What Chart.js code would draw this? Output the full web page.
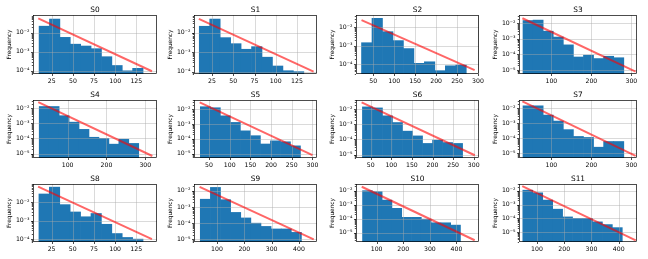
<!DOCTYPE html>
<html>
<head>
<meta charset="utf-8">
<script src="https://cdn.jsdelivr.net/npm/chart.js@4"></script>
<style>
  body { margin: 0; background: #fff; width: 648px; height: 259px; position: relative; overflow: hidden; }
  canvas { position: absolute; }
</style>
</head>
<body>
<script>
// Datos: un histograma por serie (bordes de bins, frecuencias) y la recta de ajuste
const titles = ['S0', 'S1', 'S2', 'S3', 'S4', 'S5', 'S6', 'S7', 'S8', 'S9', 'S10', 'S11'];

const s0Edges = [10, 22.3, 34.6, 46.9, 59.2, 71.5, 83.8, 96.1, 108.4, 120.7, 133];
const s0Freq = [0.022, 0.052, 0.0057, 0.0025, 0.0020, 0.00145, 0.00055, 0.00019, 0.0001, 0.000135];
const s0Fit = [[9, 0.057], [143.5, 0.000095]];

const s1Edges = [10, 22.3, 34.6, 46.9, 59.2, 71.5, 83.8, 96.1, 108.4, 120.7, 133];
const s1Freq = [0.021, 0.049, 0.0055, 0.0027, 0.0014, 0.0019, 0.00055, 0.000195, 0.000112, 0.0001];
const s1Fit = [[9.5, 0.05], [144.5, 0.0001]];

const s2Edges = [22, 47, 72, 97, 122, 147, 172, 197, 222, 247, 272];
const s2Freq = [0.00146, 0.031, 0.0058, 0.0019, 0.0007, 0.00011, 0.000134, 0.000044, 0.000081, 0.000089];
const s2Fit = [[22, 0.025], [292, 0.000047]];

const s3Edges = [29, 54.2, 79.4, 104.6, 129.8, 155, 180.2, 205.4, 230.6, 255.8, 281];
const s3Freq = [0.015, 0.016, 0.0031, 0.0013, 0.00041, 0.000068, 0.000089, 0.000054, 0.000076, 0.000061];
const s3Fit = [[27.5, 0.021], [310.5, 0.0000078]];

const s4Edges = [27, 52.6, 78.2, 103.8, 129.4, 155, 180.6, 206.2, 231.8, 257.4, 283];
const s4Freq = [0.013, 0.013, 0.0032, 0.0012, 0.0004, 0.00012, 0.0001, 0.000042, 0.000089, 0.000047];
const s4Fit = [[24.5, 0.025], [318, 0.0000069]];

const s5Edges = [29, 53.2, 77.4, 101.6, 125.8, 150, 174.2, 198.4, 222.6, 246.8, 271];
const s5Freq = [0.0144, 0.0123, 0.0035, 0.00126, 0.00034, 0.00016, 0.000044, 0.000072, 0.000062, 0.000033];
const s5Fit = [[27.5, 0.028], [300, 0.0000078]];

const s6Edges = [30, 54.3, 78.6, 102.9, 127.2, 151.5, 175.8, 200.1, 224.4, 248.7, 273];
const s6Freq = [0.014, 0.012, 0.0036, 0.0013, 0.00035, 0.00017, 0.000054, 0.000089, 0.000062, 0.000054];
const s6Fit = [[28, 0.028], [302.5, 0.000009]];

const s7Edges = [29, 54.2, 79.4, 104.6, 129.8, 155, 180.2, 205.4, 230.6, 255.8, 281];
const s7Freq = [0.0144, 0.0144, 0.0035, 0.0014, 0.00038, 0.000134, 0.000115, 0.000026, 0.000062, 0.000062];
const s7Fit = [[27.5, 0.028], [310.5, 0.000007]];

const s8Edges = [10, 22.3, 34.6, 46.9, 59.2, 71.5, 83.8, 96.1, 108.4, 120.7, 133];
const s8Freq = [0.027, 0.063, 0.0072, 0.0029, 0.0016, 0.0024, 0.00063, 0.0002, 0.000123, 0.0001];
const s8Fit = [[9, 0.067], [143.5, 0.0001]];

const s9Edges = [39, 76, 113, 150, 187, 224, 261, 298, 335, 372, 409];
const s9Freq = [0.003, 0.016, 0.0028, 0.00046, 0.00021, 0.0001, 0.000063, 0.000044, 0.000044, 0.000027];
const s9Fit = [[36.5, 0.0174], [454, 0.00001]];

const s10Edges = [47, 83.8, 120.6, 157.4, 194.2, 231, 267.8, 304.6, 341.4, 378.2, 415];
const s10Freq = [0.01, 0.0085, 0.0021, 0.00054, 0.000123, 0.000123, 0.000091, 0.00005, 0.00005, 0.000034];
const s10Fit = [[44, 0.019], [468.5, 0.0000028]];

const s11Edges = [48, 84.5, 121, 157.5, 194, 230.5, 267, 303.5, 340, 376.5, 413];
const s11Freq = [0.011, 0.0071, 0.0021, 0.00046, 0.000126, 0.000098, 0.000098, 0.000055, 0.000035, 0.000021];
const s11Fit = [[46, 0.022], [462.5, 0.0000025]];

// Ticks del eje x
const ticks25 = [25, 50, 75, 100, 125];
const ticks50 = [50, 100, 150, 200, 250, 300];
const ticks100 = [100, 200, 300];
const ticks400 = [100, 200, 300, 400];

// Limites de ejes por panel
const xMins = [2.8, 3.8, 8.8, 19, 11, 13.7, 14.4, 19, 3, 16, 22.4, 34];
const xMaxs = [149.5, 148.5, 302.4, 314, 330, 311, 312.8, 314, 149.5, 466, 484.7, 467];
const yMins = [6.8e-5, 7.6e-5, 2.9e-5, 5.5e-6, 5.1e-6, 5.0e-6, 5.9e-6, 5.0e-6, 7.2e-5, 6.9e-6, 2.1e-6, 1.9e-6];
const yMaxs = [0.085, 0.079, 0.047, 0.034, 0.035, 0.041, 0.040, 0.035, 0.093, 0.026, 0.030, 0.031];

const allEdges = [s0Edges, s1Edges, s2Edges, s3Edges, s4Edges, s5Edges, s6Edges, s7Edges, s8Edges, s9Edges, s10Edges, s11Edges];
const allFreq = [s0Freq, s1Freq, s2Freq, s3Freq, s4Freq, s5Freq, s6Freq, s7Freq, s8Freq, s9Freq, s10Freq, s11Freq];
const allFit = [s0Fit, s1Fit, s2Fit, s3Fit, s4Fit, s5Fit, s6Fit, s7Fit, s8Fit, s9Fit, s10Fit, s11Fit];
const allXTicks = [ticks25, ticks25, ticks50, ticks100, ticks100, ticks50, ticks50, ticks100, ticks25, ticks400, ticks400, ticks400];

// Posicion de cada caja de ejes en la pagina
const boxLefts = [33, 194, 356, 519];
const boxRights = [157, 317, 479, 637];
const boxTops = [15, 100, 184];
const boxBottoms = [74, 158, 242];
const Y_AXIS_W = 34, X_AXIS_H = 14, PAD_TOP = 15, PAD_RIGHT = 6;

Chart.defaults.font.family = "'DejaVu Sans', sans-serif";
Chart.defaults.color = '#000';

const SUP = {'-': '⁻', '0': '⁰', '1': '¹', '2': '²', '3': '³', '4': '⁴', '5': '⁵', '6': '⁶', '7': '⁷', '8': '⁸', '9': '⁹'};
function decadeLabel(v) {
    const e = Math.round(Math.log10(v));
    return '10' + String(e).split('').map(ch => SUP[ch]).join('');
}

// Grid encima de las barras, marco, marcas de ticks y titulo (estilo matplotlib)
const decorPlugin = {
    id: 'decor',
    afterDatasetDraw(chart, args) {
        if (args.index !== 1) return;
        const {ctx, chartArea: a, scales: {x, y}} = chart;
        ctx.save();
        ctx.strokeStyle = 'rgba(170,170,170,0.55)';
        ctx.lineWidth = 0.8;
        ctx.beginPath();
        x.ticks.forEach(t => {
            const px = Math.round(x.getPixelForValue(t.value)) + 0.5;
            ctx.moveTo(px, a.top); ctx.lineTo(px, a.bottom);
        });
        y.ticks.forEach(t => {
            const py = Math.round(y.getPixelForValue(t.value)) + 0.5;
            ctx.moveTo(a.left, py); ctx.lineTo(a.right, py);
        });
        ctx.stroke();
        ctx.restore();
    },
    afterDraw(chart, args, opts) {
        const {ctx, chartArea: a, scales: {x, y}} = chart;
        ctx.save();
        ctx.strokeStyle = '#000';
        ctx.lineWidth = 0.7;
        ctx.strokeRect(a.left + 0.5, a.top + 0.5, a.right - a.left - 1, a.bottom - a.top - 1);
        ctx.beginPath();
        x.ticks.forEach(t => {
            const px = Math.round(x.getPixelForValue(t.value)) + 0.5;
            ctx.moveTo(px, a.bottom); ctx.lineTo(px, a.bottom + 2);
        });
        y.ticks.forEach(t => {
            const py = Math.round(y.getPixelForValue(t.value)) + 0.5;
            ctx.moveTo(a.left, py); ctx.lineTo(a.left - 2, py);
        });
        // ticks menores del eje logaritmico
        for (let e = Math.floor(Math.log10(y.min)); e <= Math.ceil(Math.log10(y.max)); e++) {
            for (let m = 2; m <= 9; m++) {
                const v = m * Math.pow(10, e);
                if (v < y.min || v > y.max) continue;
                const py = Math.round(y.getPixelForValue(v)) + 0.5;
                ctx.moveTo(a.left, py); ctx.lineTo(a.left - 1.2, py);
            }
        }
        ctx.stroke();
        ctx.fillStyle = '#000';
        ctx.font = "7.4px 'DejaVu Sans', sans-serif";
        ctx.textAlign = 'center';
        ctx.textBaseline = 'alphabetic';
        ctx.fillText(opts.title, (a.left + a.right) / 2, a.top - 3.5);
        ctx.restore();
    }
};

titles.forEach((title, i) => {
    const r = Math.floor(i / 4), c = i % 4;
    const w = boxRights[c] - boxLefts[c] + Y_AXIS_W + PAD_RIGHT;
    const h = boxBottoms[r] - boxTops[r] + PAD_TOP + X_AXIS_H;
    const cv = document.createElement('canvas');
    cv.width = w; cv.height = h;
    cv.style.width = w + 'px'; cv.style.height = h + 'px';
    cv.style.left = (boxLefts[c] - Y_AXIS_W) + 'px';
    cv.style.top = (boxTops[r] - PAD_TOP) + 'px';
    document.body.appendChild(cv);

    const edges = allEdges[i];
    const freq = allFreq[i];
    const centers = edges.slice(0, -1).map((e, k) => (e + edges[k + 1]) / 2);
    const xTicks = allXTicks[i];

    new Chart(cv.getContext('2d'), {
        type: 'bar',
        data: {
            datasets: [
                {
                    type: 'line',
                    data: allFit[i].map(p => ({x: p[0], y: p[1]})),
                    borderColor: 'rgba(255,0,0,0.6)',
                    borderWidth: 2,
                    pointRadius: 0,
                    fill: false
                },
                {
                    type: 'bar',
                    data: centers.map((cx, k) => ({x: cx, y: freq[k]})),
                    backgroundColor: '#1f77b4',
                    borderWidth: 0,
                    barPercentage: 1,
                    categoryPercentage: 1
                }
            ]
        },
        options: {
            responsive: false,
            animation: false,
            devicePixelRatio: 1,
            layout: { padding: { left: 0, top: PAD_TOP, right: PAD_RIGHT, bottom: 0 } },
            plugins: {
                legend: { display: false },
                tooltip: { enabled: false },
                decor: { title: title }
            },
            scales: {
                x: {
                    type: 'linear',
                    min: xMins[i],
                    max: xMaxs[i],
                    offset: false,
                    border: { display: false },
                    grid: { display: false, drawTicks: true, tickLength: 2 },
                    ticks: { autoSkip: false, maxRotation: 0, padding: 1.5, font: { size: 6.2 }, color: '#000',
                             callback: v => String(v) },
                    afterBuildTicks: s => { s.ticks = xTicks.map(v => ({value: v})); },
                    afterFit: s => { s.height = X_AXIS_H; s.paddingLeft = 0; s.paddingRight = 0; }
                },
                y: {
                    type: 'logarithmic',
                    min: yMins[i],
                    max: yMaxs[i],
                    border: { display: false },
                    grid: { display: false, drawTicks: true, tickLength: 2 },
                    title: { display: true, text: 'Frequency', font: { size: 5.8 }, color: '#000',
                             padding: { top: 7, bottom: 0 } },
                    ticks: { autoSkip: false, padding: 1.5, font: { size: 6.2 }, color: '#000',
                             callback: v => decadeLabel(v) },
                    afterBuildTicks: s => {
                        const out = [];
                        for (let e = Math.ceil(Math.log10(s.min) - 1e-9); e <= Math.floor(Math.log10(s.max) + 1e-9); e++) {
                            out.push({value: Math.pow(10, e), major: true});
                        }
                        s.ticks = out;
                    },
                    afterFit: s => { s.width = Y_AXIS_W; s.paddingTop = 0; s.paddingBottom = 0; }
                }
            }
        },
        plugins: [decorPlugin]
    });
});
</script>
</body>
</html>
